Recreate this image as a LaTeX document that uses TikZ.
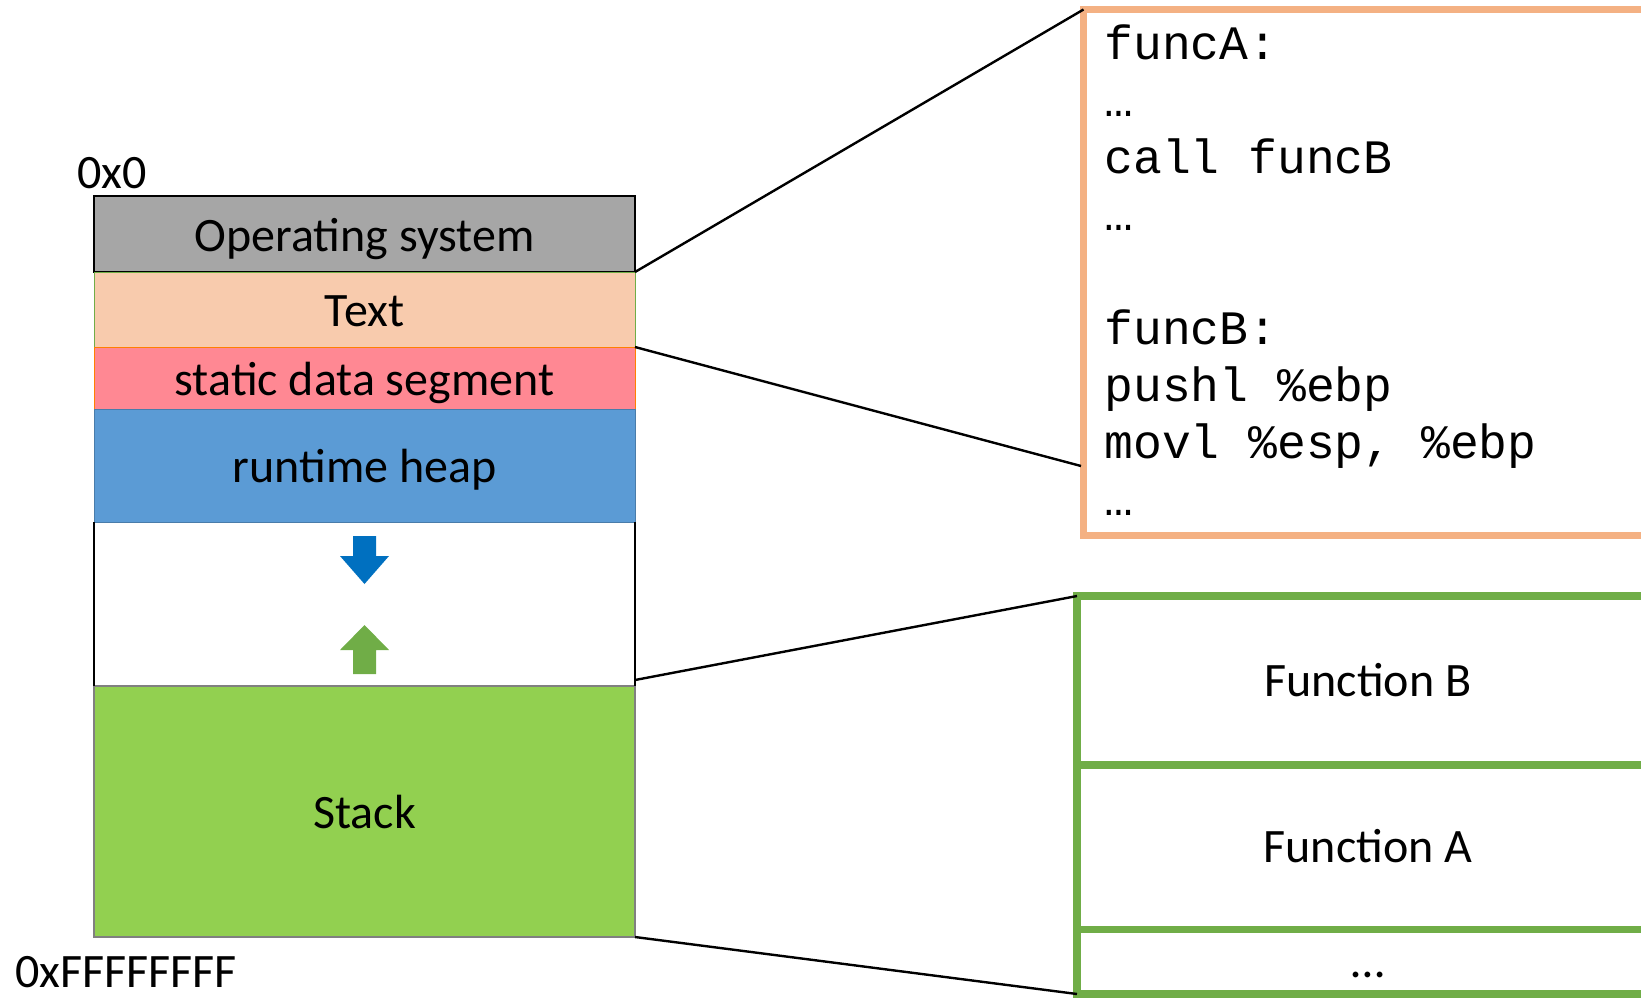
\documentclass[tikz,border=0pt]{standalone}
\usepackage{fontspec}
\setmainfont{Carlito}
\newfontfamily\codefont{Liberation Mono}
\usetikzlibrary{positioning}

\definecolor{osgray}{HTML}{A6A6A6}
\definecolor{textpeach}{HTML}{F8CBAD}
\definecolor{datapink}{HTML}{FF8893}
\definecolor{heapblue}{HTML}{5B9BD5}
\definecolor{stackgreen}{HTML}{92D050}
\definecolor{downblue}{HTML}{0070C0}
\definecolor{upgreen}{HTML}{70AD47}
\definecolor{codeorange}{HTML}{F4B183}
\definecolor{framegreen}{HTML}{70AD47}

\begin{document}
\begin{tikzpicture}[x=0.5pt,y=-0.5pt,
			every node/.style={font=\fontsize{24}{28}\selectfont},
			seg/.style={draw, inner sep=0pt, outer sep=0pt, minimum width=270.5pt, text height=20pt, text depth=3pt},
			frame/.style={draw=framegreen, line width=3.75pt, inner sep=0pt, outer sep=0pt, minimum width=291pt, text height=18.5pt, text depth=3pt},
			codeline/.style={anchor=base west, inner sep=0pt, font=\codefont\fontsize{24}{28}\selectfont},
			addr/.style={anchor=base west, inner sep=0pt},
			link/.style={line width=1.2pt}]
			\useasboundingbox (0,0) rectangle (1641,997);

			% memory layout
			\node[seg, fill=osgray, line width=1pt, minimum height=38pt, anchor=north west] (os) at (94,196) {Operating system};
			\node[seg, fill=textpeach, draw=framegreen, line width=0.5pt, minimum height=37.5pt, below=0pt of os] (text) {Text};
			\node[seg, fill=datapink, draw=orange, line width=0.5pt, minimum height=31pt, below=0pt of text] (data) {static data segment};
			\node[seg, fill=heapblue, draw=heapblue!80!black, line width=0.5pt, minimum height=56.5pt, below=0pt of data] (heap) {runtime heap};
			\node[seg, draw=none, minimum height=82pt, below=0pt of heap] (gap) {};
			\node[seg, fill=stackgreen, draw=gray, line width=0.8pt, minimum height=125.5pt, below=0pt of gap] (stack) {Stack};
			\draw[line width=1pt] (gap.north west) -- (gap.south west) (gap.north east) -- (gap.south east);

			\fill[downblue] (353,536) -- (376,536) -- (376,556) -- (389,556) -- (364.5,584) -- (340,556) -- (353,556) -- cycle;
			\fill[upgreen] (353,674) -- (376,674) -- (376,650) -- (389,650) -- (364.5,625) -- (340,650) -- (353,650) -- cycle;

			\node[addr] (lowaddr) at (77,188) {0x0};
			\node[addr] (highaddr) at (15,987) {0xFFFFFFFF};

			% text segment
			\node[draw=codeorange, line width=3.5pt, inner sep=0pt, outer sep=0pt, minimum width=288.25pt, minimum height=262.75pt, anchor=north west] (code) at (1083.5,9.5) {};
			\foreach \txt [count=\i] in {funcA:, …, call funcB, …, {}, funcB:, pushl \%ebp, {movl \%esp, \%ebp}, …}
				\node[codeline] (line\i) at (1104,{59+57*(\i-1)}) {\txt};

			% stack frames
			\node[frame, minimum height=84.5pt, anchor=north west] (fb) at (1077,596) {Function B};
			\node[frame, minimum height=82.25pt, below=0pt of fb] (fa) {Function A};
			\node[frame, minimum height=32.25pt, below=0pt of fa] (fdots) {…};

			\coordinate (codefoot) at (1081,466);
			\draw[link] (os.south east) -- (code.north west);
			\draw[link] (text.south east) -- (codefoot);
			\draw[link] ([yshift=3pt]gap.south east) -- (fb.north west);
			\draw[link] (stack.south east) -- (fdots.south west);
			\end{tikzpicture}
\end{document}
